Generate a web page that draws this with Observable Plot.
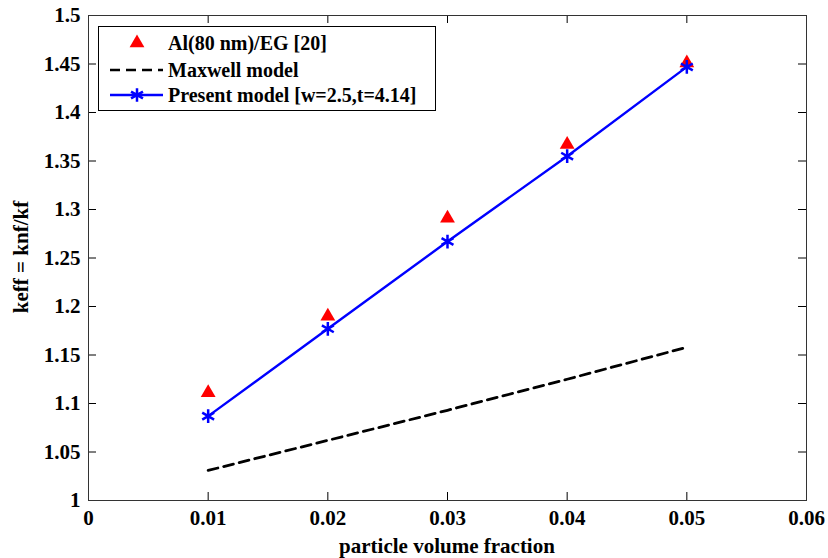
<!DOCTYPE html>
<html>
<head>
<meta charset="utf-8">
<script src="https://cdn.jsdelivr.net/npm/d3@7"></script>
<script src="https://cdn.jsdelivr.net/npm/@observablehq/plot@0.6"></script>
<style>
  html, body { margin: 0; padding: 0; background: #fff; }
  #chart svg { display: block; }
</style>
</head>
<body>
<div id="chart"></div>
<script>
// ---- data ----
const phi = [0.01, 0.02, 0.03, 0.04, 0.05];
const experiment = [1.111, 1.190, 1.291, 1.367, 1.451];   // Al(80 nm)/EG [20]
const maxwell    = [1.031, 1.062, 1.093, 1.125, 1.158];   // Maxwell model
const present    = [1.087, 1.177, 1.267, 1.355, 1.447];   // Present model
const xTicks = [0, 0.01, 0.02, 0.03, 0.04, 0.05, 0.06];
const xTickLabels = ["0", "0.01", "0.02", "0.03", "0.04", "0.05", "0.06"];
const yTicks = [1, 1.05, 1.1, 1.15, 1.2, 1.25, 1.3, 1.35, 1.4, 1.45, 1.5];
const yTickLabels = ["1", "1.05", "1.1", "1.15", "1.2", "1.25", "1.3", "1.35", "1.4", "1.45", "1.5"];
const legendLabels = ["Al(80 nm)/EG [20]", "Maxwell model", "Present model [w=2.5,t=4.14]"];
const xLabel = "particle volume fraction";
const yLabel = "keff = knf/kf";

const expData = phi.map((x, i) => ({x, y: experiment[i]}));
const maxData = phi.map((x, i) => ({x, y: maxwell[i]}));
const preData = phi.map((x, i) => ({x, y: present[i]}));

const W = 828, H = 558;
const mL = 88, mR = 22, mT = 15, mB = 58;
const plotH = H - mT - mB;
const plotW = W - mL - mR;
const tk = 8;
const font = "'Liberation Serif', 'DejaVu Serif', serif";

const chart = Plot.plot({
  width: W, height: H,
  marginLeft: mL, marginRight: mR, marginTop: mT, marginBottom: mB,
  style: {fontFamily: font, background: "#fff", color: "#000"},
  x: {domain: [0, 0.06], label: null},
  y: {domain: [1, 1.5], label: null},
  marks: [
    // inward ticks on all four sides
    Plot.ruleX(xTicks, {x: d => d, insetTop: plotH - tk, stroke: "#000", strokeWidth: 1}),
    Plot.ruleX(xTicks, {x: d => d, insetBottom: plotH - tk, stroke: "#000", strokeWidth: 1}),
    Plot.ruleY(yTicks, {y: d => d, insetRight: plotW - tk, stroke: "#000", strokeWidth: 1}),
    Plot.ruleY(yTicks, {y: d => d, insetLeft: plotW - tk, stroke: "#000", strokeWidth: 1}),
    Plot.axisX({ticks: xTicks, tickSize: 0, tickPadding: 10, tickFormat: (d, i) => xTickLabels[i],
      fontSize: 21, fontWeight: "bold", label: null}),
    Plot.axisY({ticks: yTicks, tickSize: 0, tickPadding: 8, tickFormat: (d, i) => yTickLabels[i],
      fontSize: 21, fontWeight: "bold", label: null}),
    Plot.line(maxData, {x: "x", y: "y", stroke: "#000", strokeWidth: 2.8, strokeDasharray: "10,6"}),
    Plot.line(preData, {x: "x", y: "y", stroke: "#0000ff", strokeWidth: 2.4}),
    Plot.dot(expData, {x: "x", y: "y", symbol: "triangle", fill: "#ff0000", stroke: "none", r: 5.5}),
    Plot.dot(preData, {x: "x", y: "y", symbol: "asterisk", stroke: "#0000ff", strokeWidth: 2.5, r: 6.5}),
    Plot.frame({stroke: "#333", strokeWidth: 1})
  ]
});

document.getElementById("chart").appendChild(chart);

// axis titles and legend drawn on the same svg
const svg = d3.select(chart);
svg.append("text")
  .attr("x", mL + plotW / 2).attr("y", 553)
  .attr("text-anchor", "middle")
  .style("font-family", font).style("font-size", "21px").style("font-weight", "bold")
  .text(xLabel);
svg.append("text")
  .attr("transform", `translate(28,${257}) rotate(-90)`)
  .attr("text-anchor", "middle")
  .style("font-family", font).style("font-size", "21px").style("font-weight", "bold")
  .text(yLabel);

const lg = svg.append("g");
lg.append("rect").attr("x", 98.5).attr("y", 26.5).attr("width", 337).attr("height", 84)
  .attr("fill", "#fff").attr("stroke", "#000").attr("stroke-width", 1);
const rows = [43, 70, 95];
lg.append("path").attr("d", d3.symbol(d3.symbolTriangle, Math.PI * 5.5 * 5.5)())
  .attr("transform", `translate(137,${rows[0]})`).attr("fill", "#ff0000");
lg.append("line").attr("x1", 110).attr("x2", 163).attr("y1", rows[1]).attr("y2", rows[1])
  .attr("stroke", "#000").attr("stroke-width", 2.5).attr("stroke-dasharray", "10,6");
lg.append("line").attr("x1", 110).attr("x2", 163).attr("y1", rows[2]).attr("y2", rows[2])
  .attr("stroke", "#0000ff").attr("stroke-width", 2.4);
lg.append("path").attr("d", d3.symbol(d3.symbolAsterisk, Math.PI * 6.5 * 6.5)())
  .attr("transform", `translate(137,${rows[2]})`).attr("fill", "none")
  .attr("stroke", "#0000ff").attr("stroke-width", 2.5);
legendLabels.forEach((t, i) => {
  lg.append("text").attr("x", 168).attr("y", rows[i]).attr("dy", "0.35em")
    .attr("text-anchor", "start")
    .style("font-family", font).style("font-size", "20px").style("font-weight", "bold")
    .text(t);
});
</script>
</body>
</html>
